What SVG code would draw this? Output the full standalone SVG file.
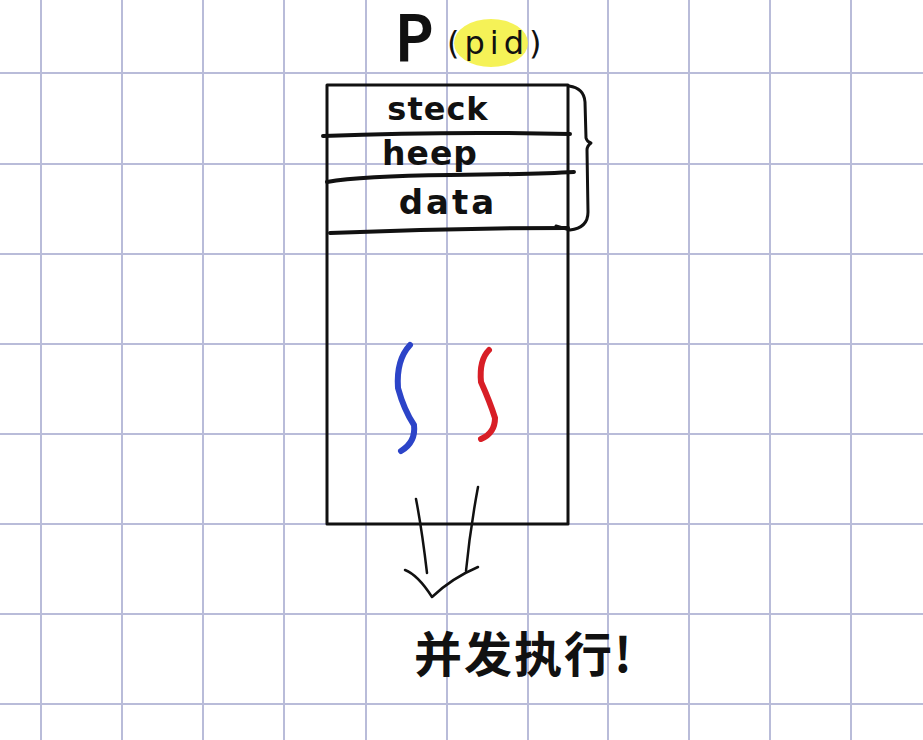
<svg xmlns="http://www.w3.org/2000/svg" width="923" height="740" viewBox="0 0 923 740">
  <style>
    .grid line { stroke: #b9bcd9; stroke-width: 2; }
    .ink { fill: none; stroke: #111; stroke-linecap: round; stroke-linejoin: round; }
    .hand { font-family: "DejaVu Sans", "Noto Sans", sans-serif; fill: #111; }
    .cjk { font-family: "Noto Sans CJK SC", "Noto Sans", sans-serif; fill: #111; }
  </style>
  <rect width="923" height="740" fill="#ffffff"/>
  <g class="grid" id="grid">
    <line x1="41" y1="0" x2="41" y2="740"/>
    <line x1="122" y1="0" x2="122" y2="740"/>
    <line x1="203" y1="0" x2="203" y2="740"/>
    <line x1="284" y1="0" x2="284" y2="740"/>
    <line x1="366" y1="0" x2="366" y2="740"/>
    <line x1="447" y1="0" x2="447" y2="740"/>
    <line x1="528" y1="0" x2="528" y2="740"/>
    <line x1="608" y1="0" x2="608" y2="740"/>
    <line x1="689" y1="0" x2="689" y2="740"/>
    <line x1="770" y1="0" x2="770" y2="740"/>
    <line x1="851" y1="0" x2="851" y2="740"/>
    <line x1="0" y1="73" x2="923" y2="73"/>
    <line x1="0" y1="164" x2="923" y2="164"/>
    <line x1="0" y1="254" x2="923" y2="254"/>
    <line x1="0" y1="344" x2="923" y2="344"/>
    <line x1="0" y1="434" x2="923" y2="434"/>
    <line x1="0" y1="524" x2="923" y2="524"/>
    <line x1="0" y1="614" x2="923" y2="614"/>
    <line x1="0" y1="704" x2="923" y2="704"/>
  </g>

  <g id="title">
    <ellipse cx="491" cy="43" rx="37" ry="24" fill="#f3f03a" opacity="0.85"/>
    <text class="hand" x="395" y="60" font-size="62" stroke="#111" stroke-width="2">P</text>
    <text class="hand" x="447" y="54" font-size="32" letter-spacing="5">(pid)</text>
  </g>

  <g id="process">
    <rect x="327" y="85" width="241" height="439" class="ink" stroke-width="3"/>
    <path class="ink" stroke-width="4" d="M323 136 Q450 131 570 134"/>
    <path class="ink" stroke-width="4" d="M327 182 Q360 176 450 175 T574 172"/>
    <path class="ink" stroke-width="4" d="M330 233 Q450 228 568 228"/>
    <text class="hand" x="438" y="120" font-size="32" text-anchor="middle" font-weight="bold" letter-spacing="1">steck</text>
    <text class="hand" x="430" y="165" font-size="33" text-anchor="middle" font-weight="bold" letter-spacing="1">heep</text>
    <text class="hand" x="448" y="214" font-size="34" text-anchor="middle" font-weight="bold" letter-spacing="3">data</text>
  </g>

  <g id="brace">
    <path class="ink" stroke-width="3" d="M569 86 Q584 88 585 102 L586 138 Q587 142 591 143 Q587 146 587 150 L588 212 Q588 228 570 230 L556 226"/>
  </g>

  <g id="threads">
    <path fill="none" stroke="#2c44c8" stroke-width="6" stroke-linecap="round" d="M410 345 Q396 360 398 388 Q404 410 414 425 Q416 442 401 451"/>
    <path fill="none" stroke="#d81e26" stroke-width="6" stroke-linecap="round" d="M489 350 Q479 360 481 382 Q490 402 495 418 Q495 433 481 439"/>
  </g>

  <g id="connectors">
    <path class="ink" stroke-width="2.5" d="M416 499 Q422 530 427 573"/>
    <path class="ink" stroke-width="2.5" d="M478 487 Q470 530 466 571"/>
    <path class="ink" stroke-width="2.5" d="M405 570 Q418 575 432 597 Q452 578 478 567"/>
  </g>

  <g id="label">
    <text class="cjk" x="414" y="672" font-size="48" font-weight="bold" letter-spacing="2">并发执行!</text>
  </g>
</svg>
